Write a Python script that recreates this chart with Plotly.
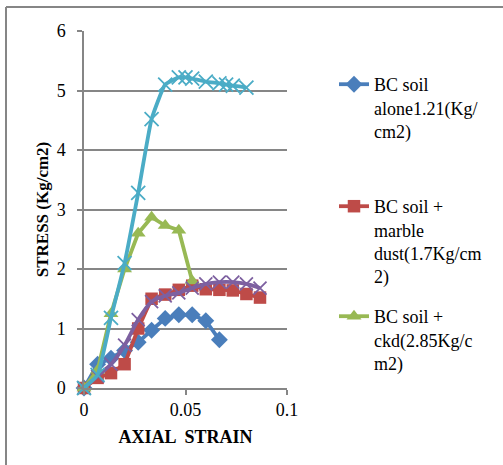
import plotly.graph_objects as go

# ---- data ----
blue_x = [0, 0.0067, 0.0133, 0.02, 0.0267, 0.0333, 0.04, 0.0467, 0.0533, 0.06, 0.0667]
blue_y = [0, 0.40, 0.50, 0.63, 0.77, 0.97, 1.17, 1.23, 1.23, 1.13, 0.81]

red_x = [0, 0.0067, 0.0133, 0.02, 0.0267, 0.0333, 0.04, 0.0467, 0.0533, 0.06, 0.0667, 0.0733, 0.08, 0.0867]
red_y = [0, 0.17, 0.25, 0.40, 1.00, 1.50, 1.57, 1.65, 1.72, 1.66, 1.65, 1.64, 1.58, 1.52]

green_x = [0, 0.0067, 0.0133, 0.02, 0.0267, 0.0333, 0.04, 0.0467, 0.0533]
green_y = [0, 0.30, 1.25, 2.00, 2.60, 2.87, 2.73, 2.65, 1.80]

purple_x = [0, 0.0067, 0.0133, 0.02, 0.0267, 0.0333, 0.04, 0.0467, 0.0533, 0.06, 0.0667, 0.0733, 0.08, 0.0867]
purple_y = [0, 0.20, 0.40, 0.72, 1.15, 1.45, 1.55, 1.60, 1.68, 1.75, 1.78, 1.78, 1.75, 1.68]

cyan_x = [0, 0.0067, 0.0133, 0.02, 0.0267, 0.0333, 0.04, 0.0467, 0.05, 0.0533, 0.06, 0.0667, 0.07, 0.0733, 0.08]
cyan_y = [0, 0.22, 1.18, 2.10, 3.28, 4.52, 5.10, 5.22, 5.22, 5.20, 5.15, 5.12, 5.10, 5.08, 5.05]

names = ["BC soil<br>alone1.21(Kg/<br>cm2)",
         "BC soil +<br>marble<br>dust(1.7Kg/cm<br>2)",
         "BC soil +<br>ckd(2.85Kg/c<br>m2)"]

x_ticks = [0, 0.05, 0.1]
x_tick_text = ["0", "0.05", "0.1"]
y_ticks = [0, 1, 2, 3, 4, 5, 6]

FONT = "Liberation Serif"
W, H = 503, 465
L, R, T, B = 84, 287, 31, 388
pw, ph = R - L, B - T

def px_x(p):
    return (p - L) / pw

def px_y(p):
    return (B - p) / ph

fig = go.Figure()
fig.add_trace(go.Scatter(x=blue_x, y=blue_y, mode="lines+markers", name=names[0],
                         line=dict(color="#4A7EBB", width=3.8),
                         marker=dict(symbol="diamond", size=13, color="#4A7EBB"),
                         cliponaxis=False, legend="legend"))
fig.add_trace(go.Scatter(x=red_x, y=red_y, mode="lines+markers", name=names[1],
                         line=dict(color="#BE4B48", width=3.8),
                         marker=dict(symbol="square", size=12.5, color="#BE4B48"),
                         cliponaxis=False, legend="legend2"))
fig.add_trace(go.Scatter(x=green_x, y=green_y, mode="lines+markers", name=names[2],
                         line=dict(color="#98B954", width=3.8),
                         marker=dict(symbol="triangle-up", size=13, color="#98B954"),
                         cliponaxis=False, legend="legend3"))
fig.add_trace(go.Scatter(x=purple_x, y=purple_y, mode="lines+markers", showlegend=False,
                         line=dict(color="#7D60A0", width=3.8, shape="spline", smoothing=0.6),
                         marker=dict(symbol="x-thin-open", size=13, color="#7D60A0",
                                     line=dict(width=1.8, color="#7D60A0")),
                         cliponaxis=False))
fig.add_trace(go.Scatter(x=cyan_x, y=cyan_y, mode="lines+markers", showlegend=False,
                         line=dict(color="#4BACC6", width=3.8, shape="spline", smoothing=0.4),
                         marker=dict(symbol="x-thin-open", size=14, color="#4BACC6",
                                     line=dict(width=1.8, color="#4BACC6")),
                         cliponaxis=False))

leg_common = dict(xanchor="left", yanchor="top", valign="top", bgcolor="rgba(0,0,0,0)",
                  font=dict(family=FONT, size=18, color="#000"), borderwidth=0)

fig.update_layout(
    width=W, height=H,
    margin=dict(l=L, r=W - R, t=T, b=H - B),
    paper_bgcolor="white", plot_bgcolor="white",
    font=dict(family=FONT, size=18, color="#000"),
    legend=dict(x=px_x(334), y=px_y(66), **leg_common),
    legend2=dict(x=px_x(334), y=px_y(188), **leg_common),
    legend3=dict(x=px_x(334), y=px_y(298), **leg_common),
    xaxis=dict(range=[0, 0.1], tickvals=x_ticks, ticktext=x_tick_text,
               showgrid=False, zeroline=False, showline=True, linecolor="#868686", linewidth=1.5,
               ticks="outside", ticklen=5, tickcolor="#868686", tickwidth=1.5,
               tickfont=dict(family=FONT, size=18, color="#000"), automargin=True,
               title=dict(text="<b>AXIAL  STRAIN</b>", font=dict(family=FONT, size=18, color="#000"),
                          standoff=11)),
    yaxis=dict(range=[0, 6], tickvals=y_ticks,
               showgrid=True, gridcolor="#868686", gridwidth=1.5,
               zeroline=False, showline=True, linecolor="#868686", linewidth=1.5,
               ticks="outside", ticklen=5, tickcolor="#868686", tickwidth=1.5,
               ticklabelstandoff=8, automargin=True,
               tickfont=dict(family=FONT, size=18, color="#000"),
               title=dict(text="<b>STRESS (Kg/cm2)</b>", font=dict(family=FONT, size=17, color="#000"),
                          standoff=4)),
    shapes=[
        dict(type="line", xref="paper", yref="paper", x0=px_x(6), x1=px_x(503), y0=px_y(7), y1=px_y(7),
             line=dict(color="#868686", width=2)),
        dict(type="line", xref="paper", yref="paper", x0=px_x(6), x1=px_x(6), y0=px_y(7), y1=px_y(465),
             line=dict(color="#868686", width=2)),
    ],
)

fig.write_html("out.html", config={"displayModeBar": False},
               post_script="document.body.style.margin='0';document.body.style.padding='0';")
